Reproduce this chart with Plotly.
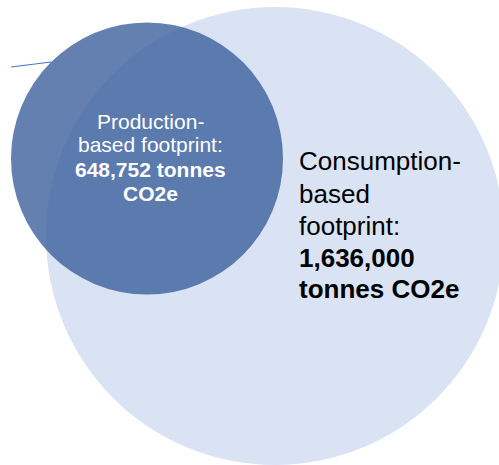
import plotly.graph_objects as go

# Data
footprint_names = ["Production-based footprint", "Consumption-based footprint"]
footprint_values = [648752, 1636000]
footprint_units = "tonnes CO2e"

prod_lines = ["Production-", "based footprint:", "<b>648,752 tonnes</b>", "<b>CO2e</b>"]
cons_lines = ["Consumption-", "based", "footprint:", "<b>1,636,000</b>", "<b>tonnes CO2e</b>"]

W, H = 499, 465
fig = go.Figure()

# big (consumption) circle
fig.add_shape(type="circle", xref="x", yref="y", x0=46, x1=504, y0=7, y1=465,
              fillcolor="#DAE3F3", line=dict(width=0), layer="below")
# connector line
fig.add_shape(type="line", xref="x", yref="y", x0=11, y0=67, x1=51, y1=62,
              line=dict(color="#4472C4", width=1))
# small (production) circle
fig.add_shape(type="circle", xref="x", yref="y", x0=11, x1=283, y0=22.5, y1=294.5,
              fillcolor="rgba(52,90,153,0.77)", line=dict(width=0))

font = "Liberation Sans, Arial, sans-serif"
prod_base = [129, 152, 177, 201]
for t, b in zip(prod_lines, prod_base):
    fig.add_annotation(x=150, y=b - 7.5, xref="x", yref="y", text=t, showarrow=False,
                       xanchor="center", yanchor="middle",
                       font=dict(family=font, size=21, color="white"))
cons_base = [170, 203, 235, 267, 298]
for t, b in zip(cons_lines, cons_base):
    fig.add_annotation(x=297, y=b - 9, xref="x", yref="y", text=t, showarrow=False,
                       xanchor="left", yanchor="middle",
                       font=dict(family=font, size=26, color="black"))

fig.update_xaxes(range=[0, W], visible=False, fixedrange=True)
fig.update_yaxes(range=[H, 0], visible=False, fixedrange=True)
fig.update_layout(width=W, height=H, margin=dict(l=0, r=0, t=0, b=0),
                  paper_bgcolor="white", plot_bgcolor="white", showlegend=False)
fig.write_html("out.html", config={"displayModeBar": False})
